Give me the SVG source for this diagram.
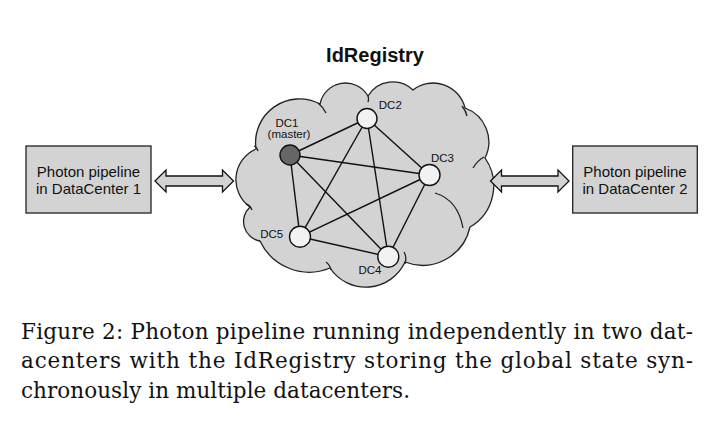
<svg xmlns="http://www.w3.org/2000/svg" width="720" height="430" viewBox="0 0 720 430">
<style>
.box{fill:#d3d3d3;stroke:#222;stroke-width:1.3}
.arrow{fill:#d3d3d3;stroke:#111;stroke-width:1.3;stroke-linejoin:miter}
.cloud{fill:#d3d3d3;stroke:#222;stroke-width:1.3}
.hint{fill:none;stroke:#222;stroke-width:1.3}
.edge{stroke:#111;stroke-width:1.4}
.dc{fill:#f2f2f2;stroke:#111;stroke-width:1.4}
.master{fill:#666;stroke:#111;stroke-width:1.4}
.lbl{font-family:"Liberation Sans",Arial,sans-serif;font-size:11.5px;fill:#111;text-anchor:middle}
.boxt{font-family:"Liberation Sans",Arial,sans-serif;font-size:15px;fill:#111;text-anchor:middle}
.cap{font-family:"DejaVu Serif","Liberation Serif",serif;font-size:21.5px;fill:#111}
</style>
<rect width="720" height="430" fill="#fff"/>
<g id="cloud">
<path class="cloud" d="M256,149 A43.9,43.9 0 0,1 320,104 A26,26 0 0,1 368,96 A29,29 0 0,1 413,90 A32.7,32.7 0 0,1 465,108 A36,36 0 0,1 485,158 A48,48 0 0,1 470,227 A48.6,48.6 0 0,1 405,262 A43.1,43.1 0 0,1 330,268 A54.4,54.4 0 0,1 260,241 A19.7,19.7 0 0,1 250,207 A33.5,33.5 0 0,1 256,149 Z"/>
<path class="hint" d="M318,103 q5,4 8,10 M368,96 q1,3 0,6 M462,106 q4,5 5,10 M484,157 q-6,3 -11,11 M435,193 Q458,200 463,228 M404,252 q3,5 1,12 M326,262 q4,3 5,8 M246,204 q4,1 6,6 M254,146 q3,1 4,5"/>
<text x="375" y="62" style="font-family:'Liberation Sans',Arial,sans-serif;font-size:20px;font-weight:bold;fill:#111;text-anchor:middle">IdRegistry</text>
</g>
<g id="connectors">
<line class="edge" x1="290" y1="155" x2="367" y2="118.5"/>
<line class="edge" x1="290" y1="155" x2="429.5" y2="175"/>
<line class="edge" x1="290" y1="155" x2="388.3" y2="256.7"/>
<line class="edge" x1="290" y1="155" x2="300" y2="236.7"/>
<line class="edge" x1="367" y1="118.5" x2="429.5" y2="175"/>
<line class="edge" x1="367" y1="118.5" x2="388.3" y2="256.7"/>
<line class="edge" x1="367" y1="118.5" x2="300" y2="236.7"/>
<line class="edge" x1="429.5" y1="175" x2="388.3" y2="256.7"/>
<line class="edge" x1="429.5" y1="175" x2="300" y2="236.7"/>
<line class="edge" x1="388.3" y1="256.7" x2="300" y2="236.7"/>
<path class="arrow" d="M155,181 L166,170 L166,176 L222.5,176 L222.5,170 L233.5,181 L222.5,192 L222.5,186 L166,186 L166,192 Z"/>
<path class="arrow" d="M490.5,181 L501.5,170 L501.5,176 L558,176 L558,170 L569,181 L558,192 L558,186 L501.5,186 L501.5,192 Z"/>
</g>
<g id="dc1">
<circle class="master" cx="290" cy="155" r="10"/>
<text class="lbl" x="287" y="126.7">DC1</text>
<text class="lbl" x="289" y="137.7">(master)</text>
</g>
<g id="dc2">
<circle class="dc" cx="367" cy="118.5" r="10"/>
<text class="lbl" x="390.3" y="109">DC2</text>
</g>
<g id="dc3">
<circle class="dc" cx="429.5" cy="175" r="10.5"/>
<text class="lbl" x="442.5" y="161.7">DC3</text>
</g>
<g id="dc4">
<circle class="dc" cx="388.3" cy="256.7" r="10.5"/>
<text class="lbl" x="370" y="274.3">DC4</text>
</g>
<g id="dc5">
<circle class="dc" cx="300" cy="236.7" r="10.5"/>
<text class="lbl" x="271.7" y="238.3">DC5</text>
</g>
<g id="pipeline1">
<rect class="box" x="26" y="146" width="125" height="67"/>
<text class="boxt" x="88.5" y="176.7">Photon pipeline</text>
<text class="boxt" x="88.5" y="194">in DataCenter 1</text>
</g>
<g id="pipeline2">
<rect class="box" x="572.7" y="146" width="124.6" height="67"/>
<text class="boxt" x="635" y="176.7">Photon pipeline</text>
<text class="boxt" x="635" y="194">in DataCenter 2</text>
</g>
<g id="caption">
<text class="cap" x="21" y="338.5" textLength="672" lengthAdjust="spacing">Figure 2: Photon pipeline running independently in two dat-</text>
<text class="cap" x="21" y="368" textLength="672" lengthAdjust="spacing">acenters with the IdRegistry storing the global state syn-</text>
<text class="cap" x="21" y="397.5" textLength="389" lengthAdjust="spacing">chronously in multiple datacenters.</text>
</g>
</svg>
